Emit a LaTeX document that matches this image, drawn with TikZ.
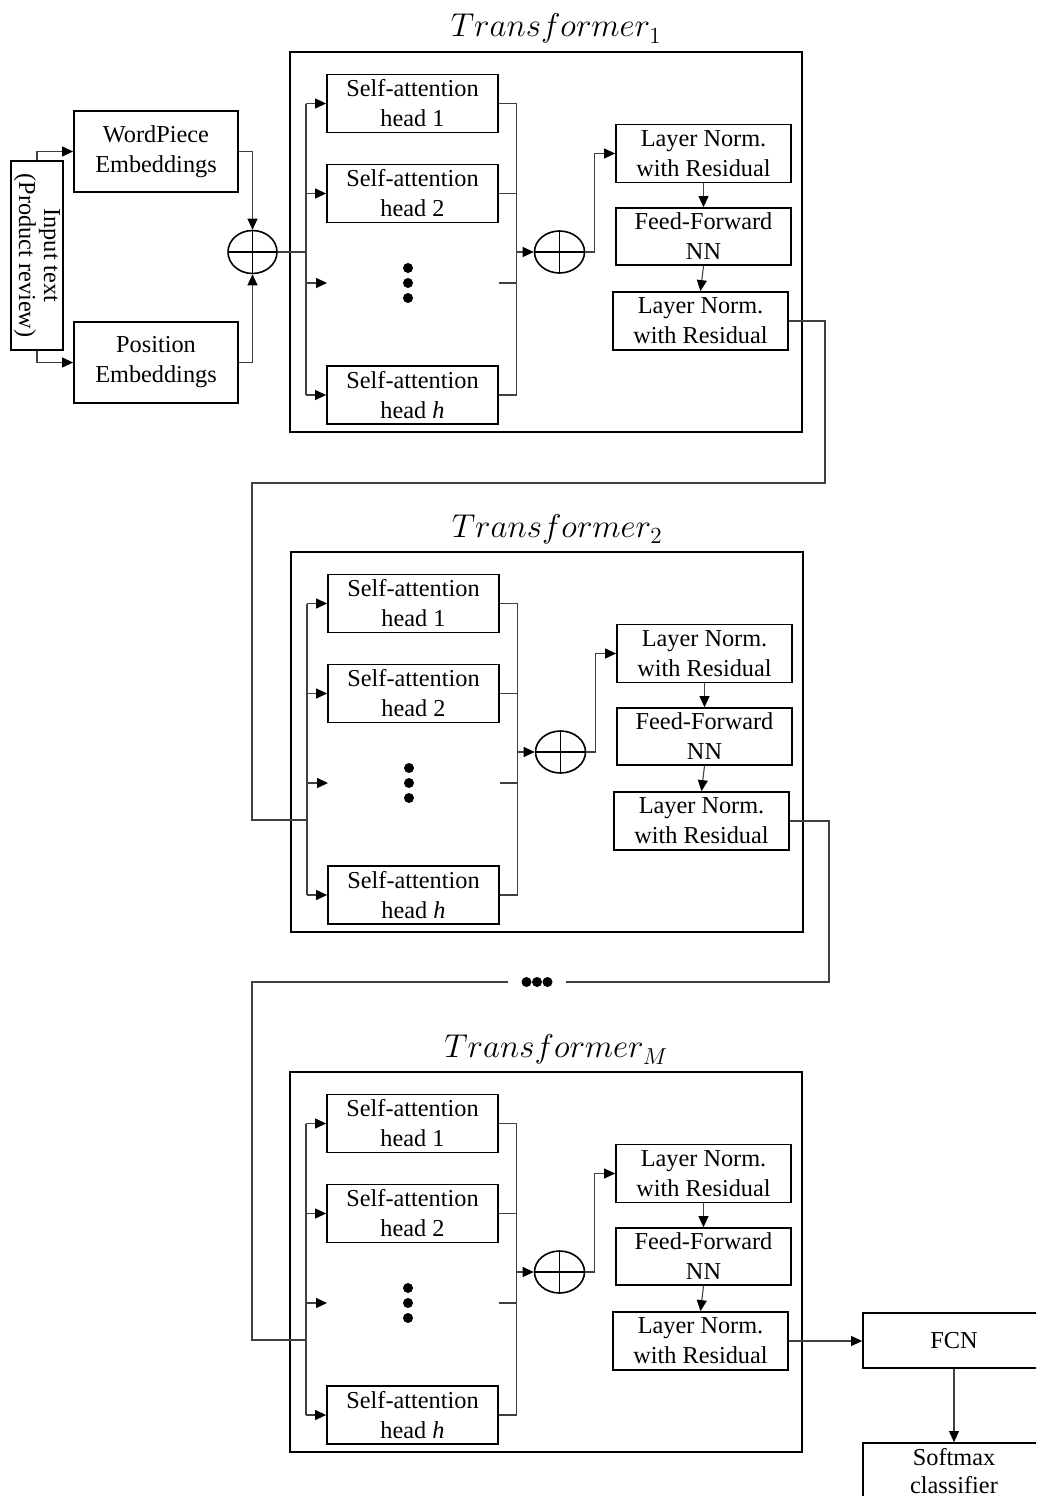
\documentclass[tikz,border=0pt]{standalone}
\usepackage{fontspec}
\setmainfont{Liberation Serif}
% scalable math italic, so large titles keep their size
\DeclareFontShape{OML}{cmm}{m}{it}{<->cmmi12}{}
\DeclareFontShape{OT1}{cmr}{m}{n}{<->cmr12}{}
\usetikzlibrary{arrows.meta,shapes.geometric}

\tikzset{
  txt/.style={font=\fontsize{24.3}{30}\selectfont, align=center},
  blk/.style={draw, line width=1.8pt, txt, inner sep=0pt},
  frame/.style={draw, line width=1.8pt, inner sep=0pt},
  conn/.style={draw=black!75, line width=1.1pt},
  arr/.style={conn, -{Triangle[length=11pt,width=10pt,color=black]}},
  plus/.style={ellipse, draw, line width=1.6pt, minimum width=50pt,
    minimum height=42pt, inner sep=0pt,
    path picture={\draw[line width=1.6pt]
      (path picture bounding box.north) -- (path picture bounding box.south)
      (path picture bounding box.west) -- (path picture bounding box.east);}},
  title/.style={font=\fontsize{33}{36}\selectfont, anchor=base},
  dot/.style={circle, fill, inner sep=0pt, minimum size=10pt},
  sabox/.style={blk, minimum width=171pt, minimum height=58pt},
  lnbox/.style={blk, minimum width=175pt, minimum height=58pt},
}

% One transformer layer: #1 name prefix, #2/#3 shift, #4 subscript, #5 y where the input joins the bus
\newcommand\transblock[5]{%
\begin{scope}[shift={(#2,#3)}]
  \node[frame, minimum width=512pt, minimum height=380pt] (#1box) at (546,242) {};
  \node[title] (#1title) at (556,37) {$Transformer_{#4}$};
  \node[sabox] (#1sa1) at (412.5,103.5) {Self-attention\\head 1};
  \node[sabox] (#1sa2) at (412.5,193.5) {Self-attention\\head 2};
  \node[sabox] (#1sah) at (412.5,395) {Self-attention\\head \textit{h}};
  \node[dot] (#1d1) at (408,268) {};
  \node[dot] (#1d2) at (408,283) {};
  \node[dot] (#1d3) at (408,298) {};
  \coordinate (#1dl) at (327,283);
  \coordinate (#1dr) at (498.5,283);
  \coordinate (#1busL) at (306,#5);
  \coordinate (#1busR) at (516.5,252);
  \node[plus] (#1plus) at (559.5,252) {};
  \node[lnbox] (#1ln1) at (703.5,153.5) {Layer Norm.\\with Residual};
  \node[lnbox, minimum height=57pt] (#1ff) at (703.5,236.5) {Feed-Forward\\NN};
  \node[lnbox] (#1ln2) at (700.5,321) {Layer Norm.\\with Residual};
  % fan-out to the heads
  \draw[conn] (#1sa1.west -| #1busL) -- (#1sah.west -| #1busL);
  \draw[arr] (#1sa1.west -| #1busL) -- (#1sa1.west);
  \draw[arr] (#1sa2.west -| #1busL) -- (#1sa2.west);
  \draw[arr] (#1dl -| #1busL) -- (#1dl);
  \draw[arr] (#1sah.west -| #1busL) -- (#1sah.west);
  % fan-in to the sum
  \draw[conn] (#1sa1.east) -| (#1busR);
  \draw[conn] (#1sah.east) -| (#1busR);
  \draw[conn] (#1sa2.east) -- (#1sa2.east -| #1busR);
  \draw[conn] (#1dr) -- (#1dr -| #1busR);
  \draw[arr] (#1busR) -- (#1plus.west);
  \draw[arr] (#1plus.east) -- ++(9,0) |- (#1ln1.west);
  \draw[arr] (#1ln1.south) -- (#1ff.north);
  \draw[arr] (#1ff.south) -- (#1ln2.north);
\end{scope}}

\begin{document}
\begin{tikzpicture}[x=1pt,y=-1pt]
  \useasboundingbox (0,0) rectangle (1036,1496);
  \clip (0,0) rectangle (1036,1496);

  % embeddings
  \node[blk, rotate=-90, minimum width=189pt, minimum height=52pt,
        font=\fontsize{24.3}{25}\selectfont] (inp) at (37,255.5)
        {Input text\\(Product review)};
  \node[blk, minimum width=164pt, minimum height=81pt] (wp) at (156,151.5) {WordPiece\\Embeddings};
  \node[blk, minimum width=164pt, minimum height=81pt] (pos) at (156,362.5) {Position\\Embeddings};
  \node[plus, minimum width=49pt, minimum height=43pt] (iplus) at (252.5,252) {};
  \draw[arr] (inp.west) |- (wp.west);
  \draw[arr] (inp.east) |- (pos.west);
  \draw[arr] (wp.east) -| (iplus.north);
  \draw[arr] (pos.east) -| (iplus.south);

  \transblock{T1}{0}{0}{1}{252}
  \transblock{T2}{1}{500}{2}{320}
  \transblock{TM}{0}{1020}{M}{320}

  \draw[conn] (iplus.east) -- (T1busL);

  % T1 -> T2
  \coordinate (r1) at (825,483);
  \coordinate (l1) at (252,483);
  \draw[conn] (T1ln2.east) -| (r1) -- (l1) |- (T2busL);

  % T2 -> ... -> TM
  \node[minimum width=58pt, minimum height=10pt, inner sep=0pt] (gap) at (537,982) {};
  \node[dot] (g1) at (526.5,982) {};
  \node[dot] (g2) at (537,982) {};
  \node[dot] (g3) at (547.5,982) {};
  \coordinate (r2) at (829,982);
  \coordinate (l2) at (252,982);
  \draw[conn] (T2ln2.east) -| (r2) -- (gap.east);
  \draw[conn] (gap.west) -- (l2) |- (TMbusL);

  % classifier head
  \node[blk, minimum width=182pt, minimum height=55pt] (fcn) at (954,1340.5) {FCN};
  \node[blk, minimum width=182pt, minimum height=58pt, font=\fontsize{24.3}{28}\selectfont,
        text depth=3pt] (soft) at (954,1472) {Softmax\\classifier};
  \draw[arr] (TMln2.east) -- (TMln2.east -| fcn.west);
  \draw[arr] (fcn.south) -- (soft.north);
\end{tikzpicture}
\end{document}
